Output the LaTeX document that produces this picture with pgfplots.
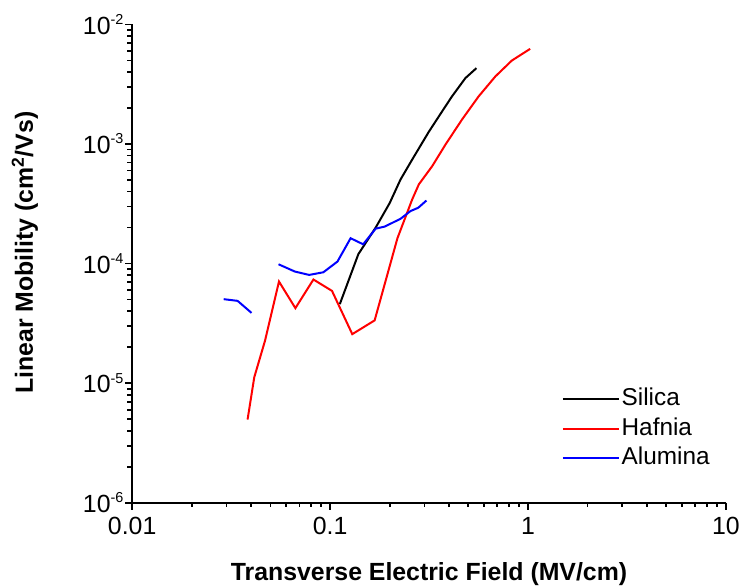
\documentclass[border=0pt]{standalone}
\usepackage{fontspec}
\setmainfont{Liberation Sans}
\usepackage{pgfplots}
\pgfplotsset{compat=1.18}
\newcommand{\ex}[1]{10\raisebox{10bp}{\fontsize{14.5}{15}\selectfont #1}}
\begin{document}
\begin{tikzpicture}
\begin{axis}[
  at={(0,0)}, anchor=south west,
  scale only axis, width=595.2bp, height=479.5bp,
  xmode=log, ymode=log,
  xmin=0.01, xmax=10, ymin=1e-6, ymax=1e-2,
  clip=false,
  axis lines=left,
  axis line style={line width=2.2bp, -},
  tick align=outside,
  xtick={0.01,0.1,1,10}, xticklabels={0.01,0.1,1,10},
  ytick={1e-6,1e-5,1e-4,1e-3,1e-2},
  yticklabels={\ex{-6},\ex{-5},\ex{-4},\ex{-3},\ex{-2}},
  tick style={black, line width=1.8bp},
  tick label style={font=\fontsize{25}{29}\selectfont},
  xticklabel style={yshift=-7bp},
  yticklabel style={xshift=-1bp},
  xlabel={Transverse Electric Field (MV/cm)},
  ylabel={Linear Mobility (cm\textsuperscript{2}/Vs)},
  label style={font=\fontsize{25}{29}\selectfont\bfseries, inner sep=0pt},
  xlabel style={at={(axis description cs:0.5,-0.150)}, anchor=center},
  ylabel style={at={(axis description cs:-0.1806,0.523)}, anchor=center},
  legend style={draw=none, fill=none, inner sep=0bp, at={(0.7233,0.245)}, anchor=north west,
    font=\fontsize{24.5}{28}\selectfont, row sep=2.5bp,
    nodes={inner sep=2bp, text height=18bp, text depth=5bp}},
  legend cell align=left,
  legend image code/.code={\draw[#1] (0bp,0bp) -- (56bp,0bp);},
]
\addplot[black, line width=2bp] coordinates {
(0.112,4.58e-5) (0.139,1.20e-4) (0.170,2.0e-4) (0.200,3.2e-4) (0.227,5.05e-4)
(0.260,7.41e-4) (0.315,1.26e-3) (0.368,1.87e-3) (0.413,2.50e-3) (0.483,3.56e-3) (0.549,4.31e-3)
};
\addlegendentry{Silica}
\addplot[red, line width=2bp] coordinates {
(0.0383,4.96e-6) (0.0414,1.12e-5) (0.0469,2.26e-5) (0.0552,7.08e-5) (0.0668,4.24e-5)
(0.0824,7.36e-5) (0.1023,5.91e-5) (0.1295,2.57e-5) (0.168,3.35e-5) (0.219,1.63e-4)
(0.260,3.44e-4) (0.281,4.6e-4) (0.328,6.52e-4) (0.383,9.89e-4) (0.464,1.60e-3)
(0.563,2.50e-3) (0.684,3.67e-3) (0.829,4.99e-3) (1.026,6.25e-3)
};
\addlegendentry{Hafnia}
\addplot[blue, line width=2bp, forget plot] coordinates {
(0.0290,5.04e-5) (0.0341,4.88e-5) (0.0401,3.87e-5)
};
\addplot[blue, line width=2bp] coordinates {
(0.0549,9.87e-5) (0.0664,8.58e-5) (0.0784,8.04e-5) (0.0925,8.46e-5) (0.109,1.04e-4)
(0.127,1.63e-4) (0.147,1.45e-4) (0.170,1.96e-4) (0.189,2.04e-4) (0.227,2.37e-4)
(0.255,2.75e-4) (0.279,2.93e-4) (0.307,3.37e-4)
};
\addlegendentry{Alumina}
% axis tick marks (decoration of the axis lines)
\pgfplotsinvokeforeach{0.01,0.1,1,10}{
  \draw[black, line width=1.8bp] (axis cs:#1,1e-6) -- ++(0bp,-7bp);
}
\pgfplotsinvokeforeach{0.02,0.03,0.04,0.05,0.06,0.07,0.08,0.09,0.2,0.3,0.4,0.5,0.6,0.7,0.8,0.9,2,3,4,5,6,7,8,9}{
  \draw[black, line width=1.8bp] (axis cs:#1,1e-6) -- ++(0bp,-4.7bp);
}
\pgfplotsinvokeforeach{1e-6,1e-5,1e-4,1e-3,1e-2}{
  \draw[black, line width=1.8bp] (axis cs:0.01,#1) -- ++(-7bp,0bp);
}
\pgfplotsinvokeforeach{2e-6,3e-6,4e-6,5e-6,6e-6,7e-6,8e-6,9e-6,2e-5,3e-5,4e-5,5e-5,6e-5,7e-5,8e-5,9e-5,2e-4,3e-4,4e-4,5e-4,6e-4,7e-4,8e-4,9e-4,2e-3,3e-3,4e-3,5e-3,6e-3,7e-3,8e-3,9e-3}{
  \draw[black, line width=1.8bp] (axis cs:0.01,#1) -- ++(-4.7bp,0bp);
}
\end{axis}
\path (-132.5bp,-82bp) rectangle (610.5bp,504bp);
\end{tikzpicture}
\end{document}
